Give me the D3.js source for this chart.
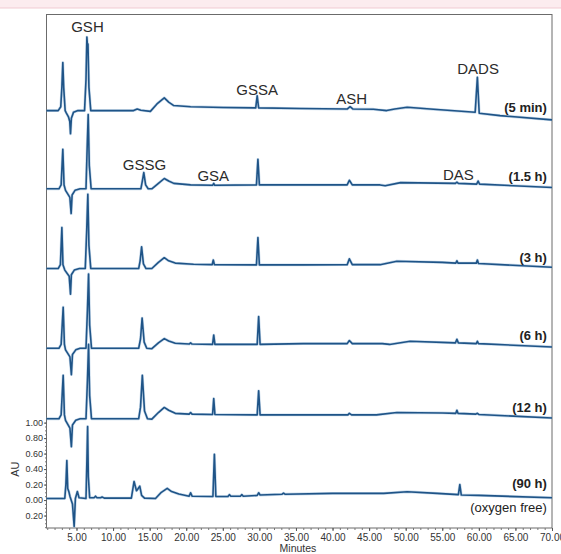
<!DOCTYPE html>
<html><head><meta charset="utf-8">
<script src="https://cdn.jsdelivr.net/npm/d3@7"></script>
<style>body{margin:0;background:#fff} svg{display:block}</style>
</head><body><svg id="c" width="561" height="554"></svg>
<script>
// ---- data ----
const traceNames = ["(5 min)", "(1.5 h)", "(3 h)", "(6 h)", "(12 h)", "(90 h)"];
const traceOffsets = [5.03, 4.02, 2.99, 1.96, 1.05, 0];
const traceLabelAU = [5.01, 4.12, 3.07, 2.07, 1.14, 0.155];
const extraLabel = "(oxygen free)";
const extraLabelAU = -0.155;

const trace5min = [[0.9,0],[2.5,0],[2.85,0.05],[3.0,0.3],[3.13,0.62],[3.25,0.3],[3.45,0.0],[3.6,-0.03],[3.9,-0.08],[4.08,-0.14],[4.18,-0.30],[4.3,-0.1],[4.6,-0.02],[5.2,0],[6.1,0],[6.3,0.4],[6.42,0.95],[6.5,0.84],[6.57,0.86],[6.7,0.3],[6.95,0],[12.8,0],[13.3,0.02],[13.8,0.005],[15.1,-0.01],[16.0,0.086],[17.0,0.165],[17.6,0.11],[18.3,0.065],[20.6,0.05],[25.1,0.04],[29.5,0.035],[29.7,0.19],[29.9,0.035],[35.6,0.026],[42.0,0.02],[42.4,0.05],[42.8,0.02],[45.6,0.017],[47.4,0.0],[48.5,0.02],[50.2,0.043],[53.8,0.017],[59.5,-0.022],[59.8,0.43],[60.05,-0.035],[62.9,-0.065],[70,-0.12]];
const trace1_5h = [[0.9,0],[2.6,0],[2.9,0.05],[3.13,0.51],[3.3,0.05],[3.5,-0.02],[4.09,-0.11],[4.27,-0.32],[4.4,-0.08],[4.8,-0.02],[5.5,0],[6.3,0],[6.45,0.5],[6.6,0.96],[6.75,0.3],[7.0,0],[13.8,0],[14.0,0.1],[14.2,0.21],[14.45,0.05],[14.8,0],[15.3,0],[16.2,0.07],[17.0,0.133],[17.6,0.1],[18.3,0.07],[20.6,0.05],[23.6,0.045],[23.76,0.07],[23.9,0.045],[29.6,0.05],[29.8,0.38],[30.0,0.05],[35,0.05],[42.0,0.05],[42.3,0.11],[42.7,0.05],[46.5,0.05],[47.2,0.04],[49.3,0.08],[56.8,0.07],[57.0,0.085],[57.2,0.07],[59.7,0.06],[59.9,0.10],[60.1,0.06],[70,0.017]];
const trace3h = [[0.9,0],[2.5,0],[2.8,0.05],[3.0,0.53],[3.15,0.05],[3.4,-0.02],[4.0,-0.1],[4.18,-0.33],[4.3,-0.08],[4.7,-0.02],[5.4,0],[6.2,0],[6.4,0.5],[6.55,0.96],[6.7,0.3],[6.95,0],[13.5,0],[13.7,0.1],[13.9,0.28],[14.15,0.06],[14.5,0],[15.3,0],[16.2,0.08],[17.0,0.14],[17.6,0.1],[18.5,0.07],[21,0.055],[23.55,0.05],[23.7,0.11],[23.85,0.05],[29.6,0.047],[29.8,0.40],[30.0,0.047],[36,0.047],[42.0,0.05],[42.3,0.125],[42.7,0.05],[46.5,0.05],[48.8,0.095],[55,0.08],[56.85,0.07],[57.0,0.10],[57.15,0.07],[59.65,0.07],[59.8,0.11],[59.95,0.065],[70,0.017]];
const trace6h = [[0.9,0],[2.6,0],[2.9,0.05],[3.18,0.53],[3.35,0.05],[3.5,-0.02],[4.1,-0.11],[4.3,-0.34],[4.45,-0.08],[4.9,-0.02],[5.5,0],[6.3,0],[6.5,0.5],[6.65,0.96],[6.8,0.3],[7.05,0],[13.5,0],[13.75,0.12],[13.97,0.39],[14.25,0.08],[14.6,0],[15.3,-0.005],[16.2,0.07],[17.0,0.125],[17.6,0.095],[18.5,0.065],[20.4,0.055],[20.6,0.07],[20.8,0.055],[23.6,0.05],[23.76,0.17],[23.92,0.05],[29.7,0.05],[29.9,0.41],[30.1,0.05],[36,0.06],[42.0,0.06],[42.3,0.10],[42.7,0.06],[46.8,0.06],[47.8,0.05],[50.6,0.09],[56.8,0.07],[57.0,0.116],[57.2,0.07],[59.65,0.06],[59.8,0.09],[59.95,0.06],[70,0.017]];
const trace12h = [[0.9,0],[2.6,0],[2.9,0.05],[3.18,0.56],[3.35,0.05],[3.5,-0.02],[4.1,-0.12],[4.3,-0.36],[4.45,-0.08],[4.9,-0.02],[5.5,0],[6.3,0],[6.5,0.5],[6.65,0.96],[6.8,0.3],[7.05,0],[13.5,0],[13.75,0.15],[14.0,0.56],[14.3,0.1],[14.7,0],[15.3,-0.005],[16.2,0.08],[17.0,0.146],[17.6,0.11],[18.5,0.07],[20.4,0.06],[20.6,0.08],[20.8,0.06],[23.6,0.055],[23.76,0.26],[23.92,0.055],[29.7,0.05],[29.9,0.36],[30.1,0.05],[36,0.05],[42.1,0.05],[42.3,0.07],[42.6,0.05],[46,0.05],[48.8,0.08],[55,0.075],[56.85,0.07],[57.0,0.11],[57.15,0.07],[59.6,0.06],[59.8,0.07],[60.0,0.055],[70,0.01]];
const trace90h = [[0.9,0.02],[3.4,0.02],[3.55,0.2],[3.68,0.51],[3.8,0.15],[3.95,0.11],[4.1,0.05],[4.45,-0.05],[4.68,-0.34],[4.85,0.02],[5.12,0.11],[5.35,0.03],[6.3,0.02],[6.42,0.5],[6.52,0.95],[6.62,0.3],[6.8,0.03],[7.4,0.03],[7.6,0.05],[7.8,0.03],[8.3,0.03],[8.5,0.04],[8.8,0.025],[12.5,0.025],[12.87,0.24],[13.2,0.12],[13.3,0.13],[13.65,0.18],[13.9,0.06],[14.3,0.025],[15.8,0.02],[16.6,0.1],[17.4,0.15],[18.0,0.11],[19,0.077],[20.4,0.05],[20.6,0.094],[20.8,0.05],[23.65,0.045],[23.85,0.59],[24.05,0.045],[25.7,0.045],[25.9,0.07],[26.1,0.05],[27.4,0.05],[27.6,0.07],[27.8,0.05],[29.7,0.06],[29.9,0.094],[30.1,0.065],[33.1,0.075],[33.3,0.09],[33.5,0.075],[40,0.086],[47,0.086],[50.2,0.107],[54.3,0.086],[57.2,0.07],[57.4,0.2],[57.6,0.065],[60,0.06],[70,0.03]];
const traces = [trace5min, trace1_5h, trace3h, trace6h, trace12h, trace90h];

const peakLabels = ["GSH", "GSSA", "ASH", "DADS", "GSSG", "GSA", "DAS"];
const peakLabelTimes = [6.5, 29.7, 42.6, 59.9, 14.3, 23.7, 57.2];
const peakLabelAU = [6.05, 5.23, 5.11, 5.50, 4.26, 4.12, 4.13];

const xTickValues = [5,10,15,20,25,30,35,40,45,50,55,60,65,70];
const xMinorTicks = d3.range(1, 71, 1);
const yTickValues = [-0.2, 0, 0.2, 0.4, 0.6, 0.8, 1.0];
const yMinorTicks = d3.range(-0.35, 1.0001, 0.05);
const xTitle = "Minutes";
const yTitle = "AU";

// ---- layout ----
const svg = d3.select("#c");
const L = 46.5, R = 552, T = 14.5, B = 528;
const x = d3.scaleLinear().domain([0.9, 70]).range([L, R]);
const y = d3.scaleLinear().domain([-0.361, 6.271]).range([B, T]);
const font = "'Liberation Sans', Arial, sans-serif";

// pink page band at top
svg.append("rect").attr("x",0).attr("y",0).attr("width",561).attr("height",8).attr("fill","#fcecef");
svg.append("line").attr("x1",0).attr("x2",561).attr("y1",8).attr("y2",8).attr("stroke","#f1cbd2").attr("stroke-width",1);

// frame
svg.append("rect").attr("x",L).attr("y",T).attr("width",R-L).attr("height",B-T)
  .attr("fill","none").attr("stroke","#6b6b6b").attr("stroke-width",1);

// x axis
const gx = svg.append("g").attr("transform",`translate(0,${B})`);
gx.append("g").call(d3.axisBottom(x).tickValues(xMinorTicks).tickSize(2).tickFormat(""))
  .call(g=>g.select(".domain").remove()).selectAll("line").attr("stroke","#777");
gx.append("g").call(d3.axisBottom(x).tickValues(xTickValues).tickSize(3).tickPadding(3).tickFormat(d3.format(".2f")))
  .call(g=>g.select(".domain").remove())
  .call(g=>g.selectAll("line").attr("stroke","#555"))
  .call(g=>g.selectAll("text").attr("font-family",font).attr("font-size",10).attr("fill","#333"));
svg.append("text").attr("x",298).attr("y",552).attr("text-anchor","middle")
  .attr("font-family",font).attr("font-size",10.5).attr("fill","#333").text(xTitle);

// y axis (only lower part labelled)
const gy = svg.append("g").attr("transform",`translate(${L},0)`);
gy.append("g").call(d3.axisLeft(y).tickValues(yMinorTicks).tickSize(1.5).tickFormat(""))
  .call(g=>g.select(".domain").remove()).selectAll("line").attr("stroke","#777");
gy.append("g").call(d3.axisLeft(y).tickValues(yTickValues).tickSize(2.5).tickPadding(1)
    .tickFormat(d=>d3.format(".2f")(Math.abs(d))))
  .call(g=>g.select(".domain").remove())
  .call(g=>g.selectAll("line").attr("stroke","#555"))
  .call(g=>g.selectAll("text").attr("font-family",font).attr("font-size",9).attr("fill","#333"));
svg.append("text").attr("transform",`translate(19,${y(0.4)}) rotate(-90)`).attr("text-anchor","middle")
  .attr("font-family",font).attr("font-size",11).attr("fill","#333").text(yTitle);

// traces
const line = d3.line().x(d=>x(d[0]));
traces.forEach((tr,i)=>{
  const off = traceOffsets[i];
  svg.append("path").datum(tr)
    .attr("d", line.y(d=>y(d[1]+off)))
    .attr("fill","none").attr("stroke","#7fa9d1").attr("stroke-width",2.8).attr("stroke-opacity",0.45)
    .attr("stroke-linejoin","round");
  svg.append("path").datum(tr)
    .attr("d", line.y(d=>y(d[1]+off)))
    .attr("fill","none").attr("stroke","#1f5487").attr("stroke-width",1.6)
    .attr("stroke-linejoin","round");
});

// trace labels
const labelT = 69.3;
traceNames.forEach((n,i)=>{
  svg.append("text").attr("x",x(labelT)).attr("y",y(traceLabelAU[i])).attr("text-anchor","end")
    .attr("font-family",font).attr("font-size",13).attr("font-weight","bold").attr("fill","#222").text(n);
});
svg.append("text").attr("x",x(labelT)).attr("y",y(extraLabelAU)).attr("text-anchor","end")
  .attr("font-family",font).attr("font-size",13).attr("fill","#222").text(extraLabel);

// peak labels
peakLabels.forEach((p,i)=>{
  svg.append("text").attr("x",x(peakLabelTimes[i])).attr("y",y(peakLabelAU[i])).attr("text-anchor","middle")
    .attr("font-family",font).attr("font-size",15).attr("fill","#2b2b2b").text(p);
});
</script></body></html>
